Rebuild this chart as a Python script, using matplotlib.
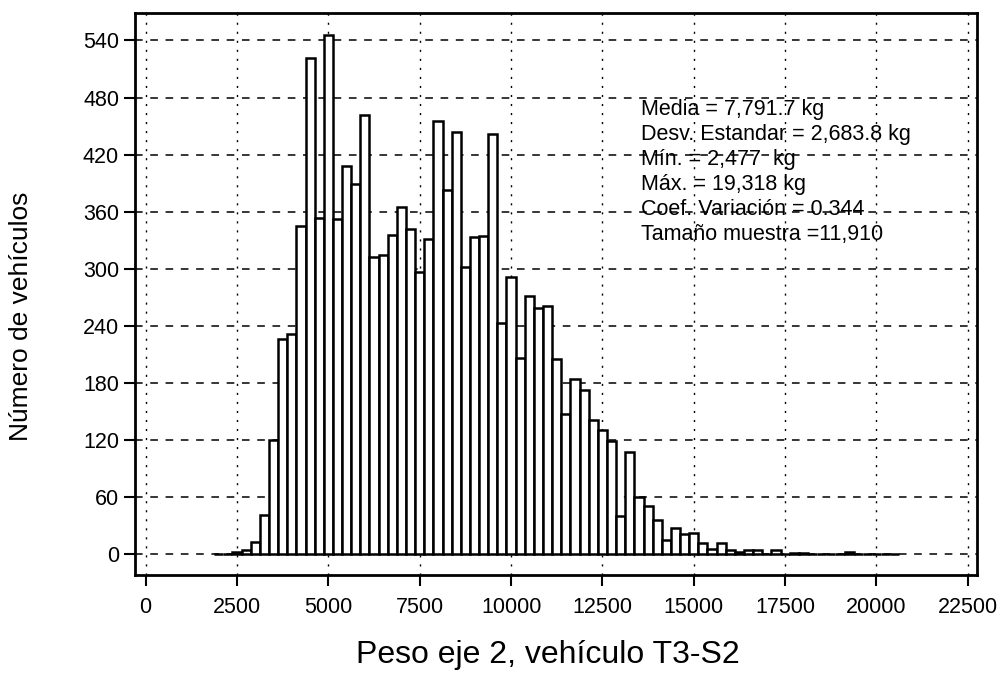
import numpy as np
import matplotlib
matplotlib.use('Agg')
import matplotlib.pyplot as plt

plt.rcParams['font.family'] = ['Liberation Sans', 'DejaVu Sans']

# histogram bins (250 kg wide, centred on multiples of 250)
bin_centers = np.arange(2000, 20501, 250)
counts = [0, 0, 3, 5, 13, 42, 120, 226, 232, 345,
          522, 354, 546, 352, 408, 389, 462, 313, 315, 336,
          365, 342, 297, 331, 455, 383, 444, 302, 334, 335,
          442, 243, 291, 206, 272, 259, 261, 205, 148, 184,
          173, 141, 131, 119, 40, 108, 60, 51, 36, 15,
          28, 21, 23, 12, 6, 12, 5, 3, 5, 5,
          1, 5, 1, 2, 2, 1, 0, 1, 1, 3,
          0, 0, 0, 0, 0]

x_ticks = [0, 2500, 5000, 7500, 10000, 12500, 15000, 17500, 20000, 22500]
y_ticks = [0, 60, 120, 180, 240, 300, 360, 420, 480, 540]

stats_lines = ['Media = 7,791.7 kg',
               'Desv. Estandar = 2,683.8 kg',
               'Mín. = 2,477  kg',
               'Máx. = 19,318 kg',
               'Coef. Variación = 0.344',
               'Tamaño muestra =11,910']

fig = plt.figure(figsize=(10.04, 6.78), dpi=100)
ax = fig.add_axes([0.1345, 0.152, 0.8386, 0.829])

# grid behind the bars
for yv in y_ticks:
    ax.axhline(yv, color='black', lw=1.1, linestyle=(0, (5, 5)), zorder=1)
for xv in x_ticks:
    ax.axvline(xv, color='black', lw=1.0, linestyle=(0, (1.5, 5)), zorder=1)

ax.bar(bin_centers, counts, width=250, align='center', color='white',
       edgecolor='black', linewidth=1.8, zorder=2)

ax.set_xlim(-290, 22750)
ax.set_ylim(-21.5, 569)
ax.set_xticks(x_ticks)
ax.set_yticks(y_ticks)
ax.tick_params(axis='both', direction='out', length=8, width=1.5,
               labelsize=15.5, colors='black')
ax.tick_params(axis='x', pad=8)
for s in ax.spines.values():
    s.set_linewidth(2)

ax.set_xlabel('Peso eje 2, vehículo T3-S2', fontsize=23)
ax.set_ylabel('Número de vehículos', fontsize=19)
ax.xaxis.set_label_coords(0.49, -0.115)
ax.yaxis.set_label_coords(-0.121, 0.46)

ax.text(13550, 478, '\n'.join(stats_lines), fontsize=15.5, va='top',
        ha='left', linespacing=1.24, zorder=3)

fig.savefig('out.png', dpi=100)
